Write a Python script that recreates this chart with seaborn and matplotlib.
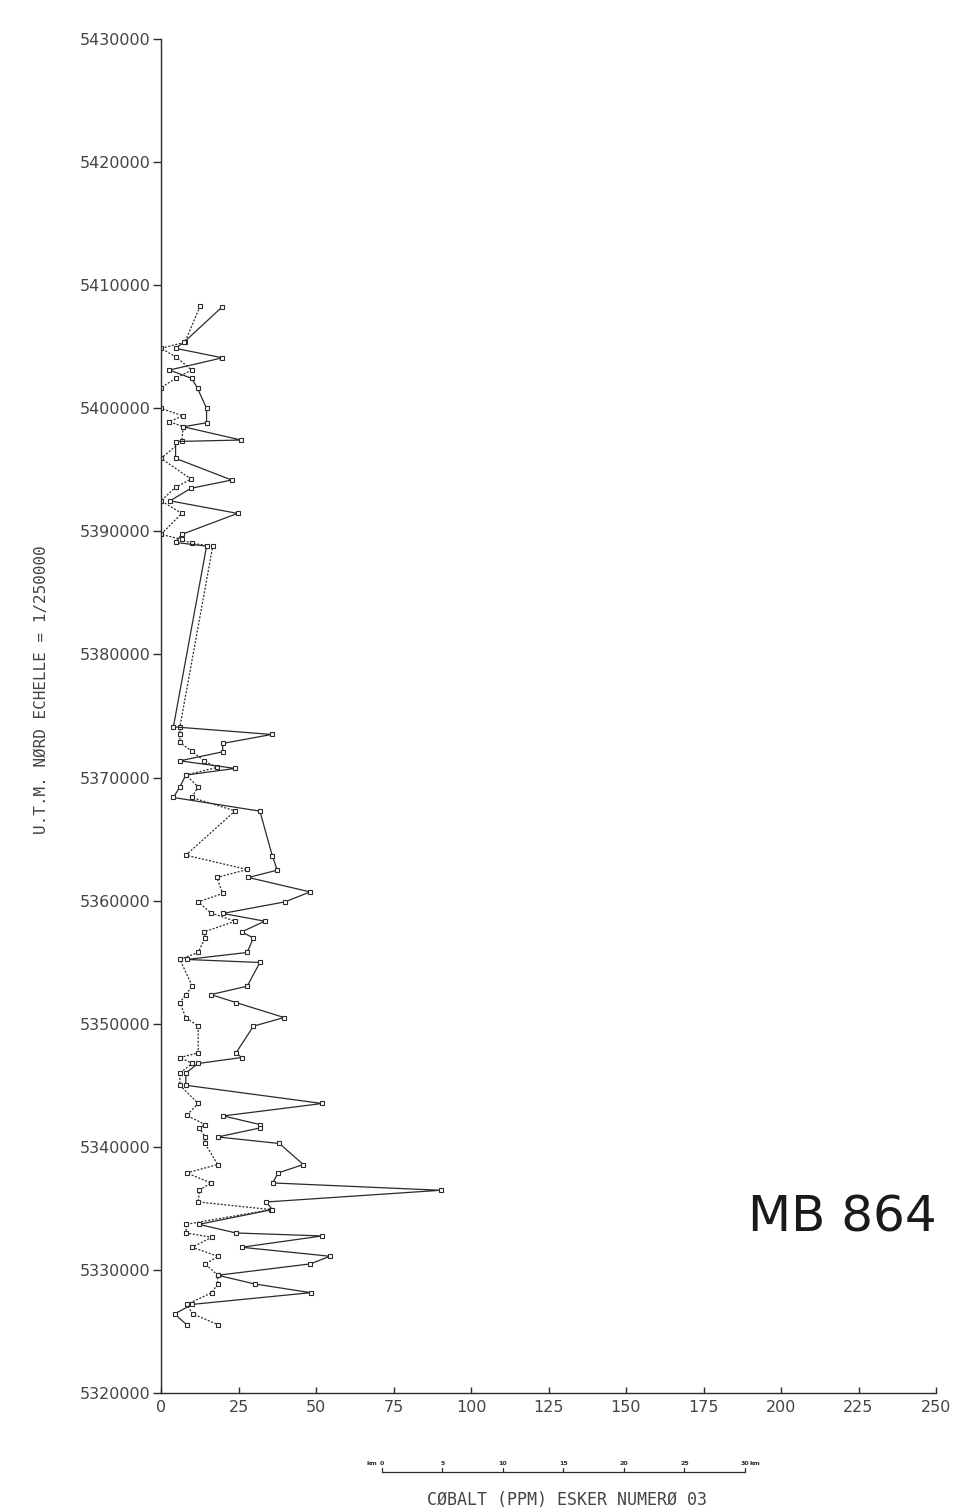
import matplotlib
matplotlib.use("Agg")
import matplotlib.pyplot as plt
from matplotlib.lines import Line2D
import seaborn as sns
import pandas as pd

# ---------------- data ----------------
solid_northing = [5408250, 5405360, 5404870, 5404100, 5403105, 5402430, 5401620,
                  5399990, 5398820, 5398500, 5397420, 5397300, 5395930, 5394170,
                  5393500, 5392480, 5391460, 5389755, 5389100, 5388800,
                  5374120, 5373500, 5372770, 5372090, 5371360, 5370740, 5370200,
                  5369245, 5368380, 5367270, 5363640, 5362475, 5361880, 5360710,
                  5359900, 5358960, 5358330, 5357460, 5356970, 5355790, 5355220,
                  5354975, 5353050, 5352370, 5351720, 5350505, 5349800, 5347630,
                  5347255, 5346770, 5346000, 5345000, 5343520, 5342510, 5341810,
                  5341530, 5340800, 5340270, 5338560, 5337880, 5337065, 5336470,
                  5335520, 5334900, 5333700, 5333000, 5332760, 5331840, 5331110,
                  5330490, 5329565, 5328860, 5328150, 5327200, 5326430, 5325540]
solid_cobalt = [19.8, 7.4, 4.7, 19.8, 2.7, 9.9, 11.8,
                14.7, 14.7, 7.2, 25.8, 4.7, 4.7, 22.8,
                9.7, 2.9, 24.7, 6.7, 4.7, 14.7,
                4.0, 35.7, 19.9, 19.9, 6.1, 23.9, 8.0,
                6.1, 4.0, 31.9, 35.9, 37.5, 28.2, 48.1,
                40.0, 19.9, 33.5, 26.0, 29.8, 27.8, 8.3,
                31.9, 27.8, 16.1, 24.2, 39.7, 29.8, 24.2,
                26.0, 12.0, 8.0, 8.0, 52.0, 20.1, 31.9,
                31.9, 18.3, 38.2, 45.9, 37.8, 36.0, 90.2,
                34.0, 35.9, 12.2, 24.2, 52.0, 26.0, 54.5,
                48.2, 18.3, 30.2, 48.3, 10.1, 4.4, 8.3]

dotted_northing = [5408300, 5405360, 5404870, 5404190, 5403105, 5402430, 5401670,
                   5399990, 5399390, 5398906, 5398500, 5397340, 5395930, 5394250,
                   5393580, 5392480, 5391460, 5389755, 5389350, 5389020, 5388800,
                   5374120, 5373500, 5372850, 5372150, 5371360, 5370820, 5370200,
                   5369245, 5368380, 5367290, 5363690, 5362530, 5361880, 5360580,
                   5359900, 5359000, 5358330, 5357460, 5356970, 5355790, 5355220,
                   5353050, 5352370, 5351720, 5350505, 5349800, 5347630, 5347255,
                   5346770, 5346000, 5345000, 5343520, 5342550, 5341810, 5341530,
                   5340800, 5340270, 5338560, 5337880, 5337065, 5336470, 5335520,
                   5334900, 5333700, 5333000, 5332650, 5331840, 5331100, 5330480,
                   5329565, 5328860, 5328150, 5327200, 5326430, 5325540]
dotted_cobalt = [12.6, 7.7, 0.0, 4.7, 9.9, 4.7, 0.0,
                 0.0, 7.0, 2.7, 7.2, 6.7, 0.0, 9.7,
                 4.7, 0.0, 6.7, 0.0, 6.7, 9.9, 16.7,
                 6.1, 6.1, 6.1, 9.9, 13.9, 18.0, 8.0,
                 12.0, 9.9, 23.9, 8.0, 27.8, 18.0, 19.9,
                 12.0, 16.1, 23.9, 13.9, 14.2, 12.0, 6.1,
                 10.1, 8.0, 6.1, 8.0, 12.0, 12.0, 6.1,
                 10.1, 6.1, 6.1, 12.0, 8.3, 14.2, 12.4,
                 14.2, 14.2, 18.3, 8.3, 16.1, 12.4, 12.0,
                 35.5, 8.1, 8.1, 16.3, 10.1, 18.4, 14.3,
                 18.3, 18.3, 16.4, 8.3, 10.2, 18.5]

x_ticks = [0, 25, 50, 75, 100, 125, 150, 175, 200, 225, 250]
x_ticklabels = ["0", "25", "50", "75", "100", "125", "150", "175", "200", "225", "250"]
y_ticks = [5320000, 5330000, 5340000, 5350000, 5360000, 5370000,
           5380000, 5390000, 5400000, 5410000, 5420000, 5430000]
y_ticklabels = [str(v) for v in y_ticks]

scale_km = [0, 5, 10, 15, 20, 25, 30]

title_text = "CØBALT (PPM) ESKER NUMERØ 03"
ylabel_text = "U.T.M. NØRD ECHELLE = 1/250000"
note_text = "MB 864"

# ---------------- figure ----------------
sns.set_style("ticks")
plt.rcParams["font.family"] = ["DejaVu Sans"]

W, H = 956, 1507
fig = plt.figure(figsize=(W / 100, H / 100), dpi=100)

def fx(px):
    return px / W

def fy(py):
    return 1 - py / H

ax_l, ax_r, ax_t, ax_b = 161, 936, 39, 1393
ax = fig.add_axes([fx(ax_l), fy(ax_b), (ax_r - ax_l) / W, (ax_b - ax_t) / H])

ink = "#2b2b2b"
txt = "#444444"

df_s = pd.DataFrame({"cobalt": solid_cobalt, "northing": solid_northing})
df_d = pd.DataFrame({"cobalt": dotted_cobalt, "northing": dotted_northing})

sns.lineplot(data=df_d, x="cobalt", y="northing", sort=False, estimator=None,
             ax=ax, color=ink, linewidth=0.9, linestyle=(0, (1.6, 1.3)),
             marker="s", markersize=3.4, markerfacecolor="white",
             markeredgecolor=ink, markeredgewidth=0.8)
sns.lineplot(data=df_s, x="cobalt", y="northing", sort=False, estimator=None,
             ax=ax, color=ink, linewidth=0.9,
             marker="s", markersize=3.4, markerfacecolor="white",
             markeredgecolor=ink, markeredgewidth=0.8)

ax.set_xlim(0, 250)
ax.set_ylim(5320000, 5430000)
ax.set_xticks(x_ticks)
ax.set_xticklabels(x_ticklabels)
ax.set_yticks(y_ticks)
ax.set_yticklabels(y_ticklabels)
ax.set_xlabel("")
ax.set_ylabel("")
sns.despine(ax=ax)
for s in ("left", "bottom"):
    ax.spines[s].set_color(ink)
    ax.spines[s].set_linewidth(1.0)
ax.tick_params(axis="y", direction="out", length=6, width=1.0, color=ink,
               pad=1.5, labelsize=11.5, labelcolor=txt)
ax.tick_params(axis="x", direction="in", length=4, width=1.0, color=ink,
               pad=5, labelsize=11.5, labelcolor=txt)
ax.patch.set_alpha(0)

# y label
fig.text(fx(42), fy(690), ylabel_text, rotation=90, ha="center", va="center",
         fontsize=11.5, color=txt, family=["DejaVu Sans Mono"])

# scale bar
sb_x0, sb_x1, sb_y = 381.7, 745, 1472
def sbx(km):
    return sb_x0 + (sb_x1 - sb_x0) * km / scale_km[-1]
fig.add_artist(Line2D([fx(sb_x0), fx(sb_x1)], [fy(sb_y), fy(sb_y)],
                      color=ink, linewidth=0.9))
for km in scale_km:
    fig.add_artist(Line2D([fx(sbx(km)), fx(sbx(km))], [fy(sb_y), fy(sb_y - 4)],
                          color=ink, linewidth=0.9))
    fig.text(fx(sbx(km)), fy(sb_y - 6), str(km), ha="center", va="bottom",
             fontsize=4.5, color=ink, fontweight="bold")
fig.text(fx(sbx(0) - 4), fy(sb_y - 6), "km", ha="right", va="bottom",
         fontsize=4.5, color=ink, fontweight="bold")
fig.text(fx(sbx(30) + 5), fy(sb_y - 6), "km", ha="left", va="bottom",
         fontsize=4.5, color=ink, fontweight="bold")

# title
fig.text(fx(567), fy(1500), title_text, ha="center", va="center",
         fontsize=12, color=txt, family=["DejaVu Sans Mono"])

# handwritten note
fig.text(fx(748), fy(1232), note_text, ha="left", va="baseline",
         fontsize=36, color="#1a1a1a")

fig.savefig("out.png", dpi=100)
